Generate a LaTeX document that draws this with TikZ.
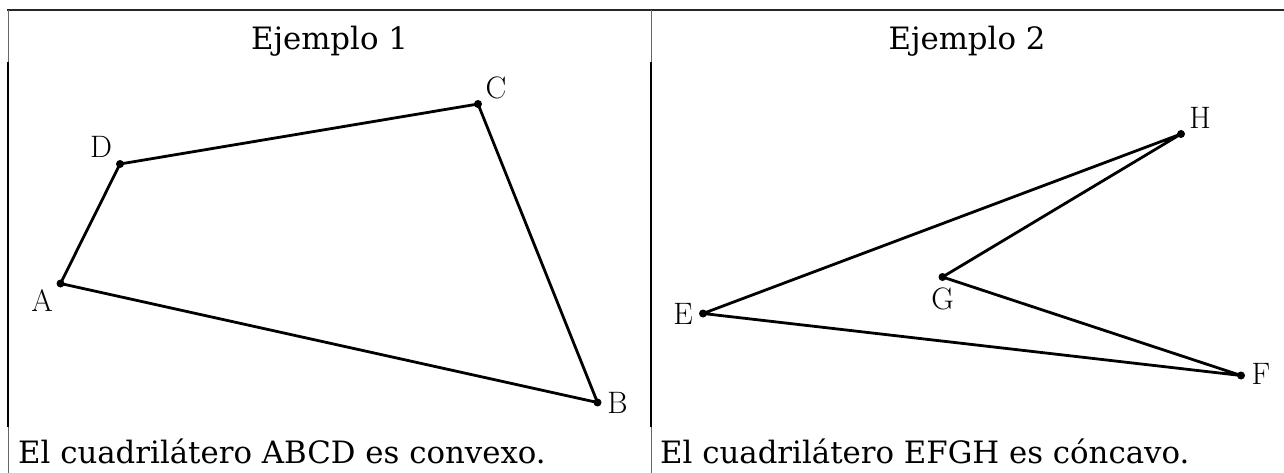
\documentclass[tikz,border=0pt]{standalone}
\usepackage{fontspec}
\newfontfamily\dvs{DejaVu Serif}
\begin{document}
\begin{tikzpicture}[x=1pt,y=-1pt,
  seg/.style={line width=2.8pt, line cap=round, line join=round},
  vdot/.style={circle, fill=black, inner sep=0pt, minimum size=8pt},
  lbl/.style={inner sep=0pt, font=\fontsize{31}{31}\selectfont},
  txt/.style={inner sep=0pt, font=\dvs\fontsize{30.8}{36}\selectfont},
  thinrule/.style={line width=1pt, draw=black!60},
  thickrule/.style={line width=2.2pt, draw=black},
  toprule/.style={line width=2.4pt, draw=black!85}]
\useasboundingbox (0,0) rectangle (1284,473);
\fill[white] (0,0) rectangle (1284,473);
% table rules
\draw[toprule] (7,10) -- (1284,10);
\foreach \xx in {8,651}{
  \draw[thinrule] (\xx,10) -- (\xx,62);
  \draw[thickrule] (\xx,62) -- (\xx,427);
  \draw[thinrule] (\xx,427) -- (\xx,473);
}
% headers and captions
\node[txt, anchor=base] (h1) at (329.5,50) {Ejemplo 1};
\node[txt, anchor=base] (h2) at (967,50) {Ejemplo 2};
\node[txt, anchor=base west] (c1) at (18,463) {El cuadrilátero ABCD es convexo.};
\node[txt, anchor=base west] (c2) at (660,463) {El cuadrilátero EFGH es cóncavo.};
% example 1
\coordinate (A) at (60.5,283.5);
\coordinate (B) at (597.5,402.5);
\coordinate (C) at (478,104);
\coordinate (D) at (120,164);
\draw[seg] (A) -- (B) -- (C) -- (D) -- cycle;
\foreach \p in {A,B,C,D}{\node[vdot] (dot\p) at (\p) {};}
\node[lbl] (lA) at (42,300.5) {A};
\node[lbl] (lB) at (617.5,403) {B};
\node[lbl] (lC) at (496,88) {C};
\node[lbl] (lD) at (101,147) {D};
% example 2
\coordinate (E) at (703,313.5);
\coordinate (F) at (1241,375.5);
\coordinate (G) at (942.5,277);
\coordinate (H) at (1181,134);
\draw[seg] (E) -- (F) -- (G) -- (H) -- cycle;
\foreach \p in {E,F,G,H}{\node[vdot] (dot\p) at (\p) {};}
\node[lbl] (lE) at (683,314) {E};
\node[lbl] (lF) at (1261,374) {F};
\node[lbl] (lG) at (942.5,299) {G};
\node[lbl] (lH) at (1200,117.5) {H};
\end{tikzpicture}
\end{document}
